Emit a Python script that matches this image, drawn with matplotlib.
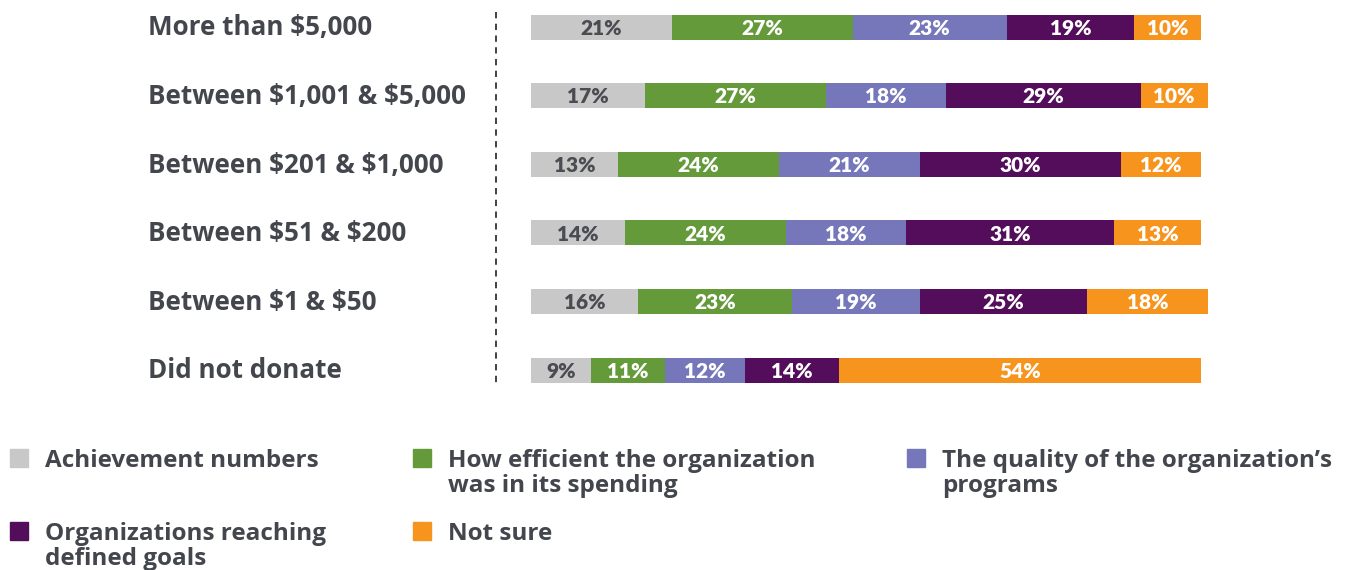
import matplotlib.pyplot as plt
from matplotlib.lines import Line2D
from matplotlib.patches import Rectangle

categories = ['More than $5,000', 'Between $1,001 & $5,000', 'Between $201 & $1,000',
              'Between $51 & $200', 'Between $1 & $50', 'Did not donate']
series_names = ['Achievement numbers',
                'How efficient the organization\nwas in its spending',
                "The quality of the organization\u2019s\nprograms",
                'Organizations reaching\ndefined goals',
                'Not sure']
achievement = [21, 17, 13, 14, 16, 9]
efficient = [27, 27, 24, 24, 23, 11]
quality = [23, 18, 21, 18, 19, 12]
goals = [19, 29, 30, 31, 25, 14]
not_sure = [10, 10, 12, 13, 18, 54]
colors = ['#c8c8c8', '#659a3b', '#7677ba', '#540d5a', '#f7941d']
label_colors = ['#4a4c52', 'white', 'white', 'white', 'white']

TEXT = '#43464d'
W, H = 1362, 570

plt.rcParams['font.family'] = ['Open Sans', 'DejaVu Sans']
plt.rcParams['text.parse_math'] = False
fig = plt.figure(figsize=(W / 100, H / 100), dpi=100)

# axes: x 0..102 -> 531..(531+6.7*102) px, y rows at 27 + 68.6*i px
ax_left, ax_right = 531, 531 + 6.7 * 102
ax_top, ax_bot = 27 - 0.3 * 68.6, 370 + 0.3 * 68.6
ax = fig.add_axes([ax_left / W, 1 - ax_bot / H, (ax_right - ax_left) / W, (ax_bot - ax_top) / H])
ax.set_xlim(0, 102)
ax.set_ylim(5.3, -0.3)
ax.axis('off')

all_series = [achievement, efficient, quality, goals, not_sure]
y = list(range(len(categories)))
left = [0] * len(categories)
for vals, col, lcol in zip(all_series, colors, label_colors):
    bars = ax.barh(y, vals, left=left, height=25 / 68.6, color=col, linewidth=0)
    for b, v in zip(bars, vals):
        ax.text(b.get_x() + b.get_width() / 2, b.get_y() + b.get_height() / 2 + 0.02, f'{v}%',
                ha='center', va='center', color=lcol, fontsize=15, fontweight='heavy',
                family=['Lato', 'DejaVu Sans'])
    left = [l + v for l, v in zip(left, vals)]

for i, cat in enumerate(categories):
    fig.text(148 / W, 1 - (28 + 68.6 * i) / H, cat, ha='left', va='center',
             fontsize=18.7, fontweight='bold', color=TEXT)

# dashed separator
fig.add_artist(Line2D([496 / W, 496 / W], [1 - 12 / H, 1 - 383 / H], color='#333333',
                      linestyle=(0, (3.5, 3)), linewidth=1.3))

# legend
leg_pos = [(10, 458), (413, 458), (907, 458), (10, 531), (413, 531)]
for (px, py), name, col in zip(leg_pos, series_names, colors):
    fig.add_artist(Rectangle((px / W, 1 - (py + 9) / H), 18 / W, 18 / H, color=col,
                             transform=fig.transFigure))
    fig.text((px + 35) / W, 1 - (py - 9) / H, name, ha='left', va='top',
             fontsize=17.5, fontweight='bold', color=TEXT, linespacing=1.05)

fig.savefig('out.png', dpi=100)
